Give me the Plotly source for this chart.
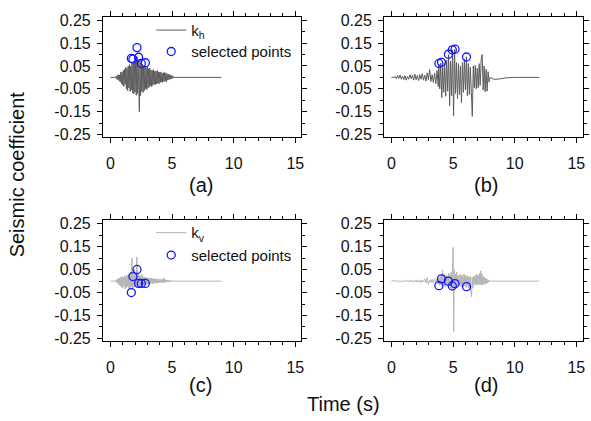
import numpy as np
import plotly.graph_objects as go
from plotly.subplots import make_subplots

FONT = "Liberation Sans, Arial, sans-serif"

# ---------------- Record 1 (panels a, c) ----------------
REC1_T_END = 9.0
REC1_T0 = 0.40
REC1_DT = 0.05
KH1 = [
    0.000, 0.004, -0.006, 0.008, -0.010, 0.012, -0.014, 0.010,
    -0.020, 0.024, -0.028, 0.022, -0.034, 0.030, -0.040, 0.036, -0.030,
    0.044, -0.050, 0.040, -0.058, 0.050, -0.046, 0.056, -0.062, 0.048, -0.055, 0.064,
    -0.068, 0.060, -0.072, 0.070, -0.064, 0.082, -0.078, 0.090, -0.070, 0.078, -0.090, -0.150,
    0.066, -0.080, 0.070,
    -0.062, 0.056, -0.066, 0.050, -0.058, 0.048, -0.050, 0.042, -0.054, 0.044, -0.046, 0.038,
    -0.042, 0.040,
    -0.036, 0.032, -0.040, 0.030, -0.034, 0.034, -0.030, 0.028, -0.032, 0.026, -0.028, 0.030,
    -0.026, 0.024, -0.028, 0.022,
    -0.022, 0.024, -0.020, 0.018, -0.022, 0.020, -0.018, 0.022, -0.016, 0.018, -0.020, 0.016,
    -0.012, 0.014, -0.010, 0.012, -0.008, 0.010, -0.006, 0.008, -0.004, 0.004, -0.002, 0.000,
]
KV1 = [
    0.000, 0.004, -0.006, 0.008, -0.010, 0.012, -0.016, 0.014,
    -0.020, 0.018, -0.026, 0.020, -0.030, 0.016, -0.022, 0.024, -0.034,
    0.020, -0.028, 0.026, -0.024, 0.030, -0.036, 0.022, -0.030, 0.040, -0.026, 0.100,
    -0.030, 0.032, -0.028, 0.050, -0.024, 0.036, -0.030, 0.105, -0.022, 0.034, -0.026, 0.028,
    -0.024, 0.022, -0.020,
    0.030, -0.018, 0.020, -0.016, 0.018, -0.014, 0.016, -0.018, 0.014, -0.012, 0.016, -0.014,
    0.012, -0.012,
    0.014, -0.010, 0.012, -0.012, 0.010, -0.010, 0.012, -0.008, 0.010, -0.010, 0.008, -0.008,
    0.010, -0.008, 0.008, -0.006,
    0.008, -0.008, 0.006, -0.006, 0.010, -0.006, 0.014, -0.008, 0.006, -0.004, 0.006, -0.004,
    0.004, -0.004, 0.004, -0.003, 0.003, -0.002, 0.002, -0.002, 0.001, -0.001, 0.001, 0.000,
]
SEL1_T = [1.70, 1.83, 2.16, 2.29, 2.51, 2.84]
SEL1_KH = [0.083, 0.080, 0.130, 0.088, 0.061, 0.064]
SEL1_KV = [-0.050, 0.020, 0.051, -0.010, -0.010, -0.010]

# ---------------- Record 2 (panels b, d) ----------------
REC2_T_END = 12.0
REC2_PRE_T0 = 0.2
REC2_PRE_DT = 0.1
KH2_PRE = [
    0.000, 0.004, -0.006, 0.008, -0.004, 0.010, -0.008, 0.006, -0.010, 0.008,
    -0.012, 0.004, -0.008, 0.012, -0.006, 0.010, -0.012, 0.014, -0.010, 0.008,
    -0.014, 0.012, -0.008, 0.016, -0.012, 0.010, -0.016, 0.020, -0.010, 0.034,
    -0.018, 0.012, -0.022, 0.018, -0.028, 0.030, -0.040,
]
KV2_PRE = [
    0.000, 0.002, -0.002, 0.003, -0.003, 0.002, -0.004, 0.003, -0.002, 0.004,
    -0.003, 0.003, -0.004, 0.005, -0.003, 0.004, -0.005, 0.003, -0.004, 0.006,
    -0.005, 0.004, -0.006, 0.005, -0.004, 0.010, -0.008, 0.015, -0.015, 0.006,
    -0.006, 0.008, -0.010, 0.010, -0.008, 0.012, -0.012,
]
# strong-motion part of the horizontal record, sampled every 0.08 s
KH2_T0 = 3.84
KH2_DT = 0.08
KH2 = [
    0.058, -0.050, 0.062, -0.088, 0.045, -0.065, 0.060, -0.082, 0.075, -0.060,
    0.100, -0.124, 0.070, -0.080, 0.120, -0.168, 0.122, -0.070, 0.065, -0.092,
    0.060, -0.075, 0.050, -0.110, 0.065, -0.065, 0.080, -0.055, 0.090, -0.080,
    0.060, -0.075, 0.045, -0.120, -0.170, 0.050, -0.045, 0.052, -0.050, 0.040,
    -0.045, 0.060, -0.035, 0.080, 0.100, -0.055, 0.050, -0.063, 0.035, -0.060,
    0.025, -0.020, 0.000,
]
# strong-motion part of the vertical record, sampled every 0.05 s
KV2_T0 = 3.85
KV2_DT = 0.05
KV2 = [
    0.014, -0.018, 0.020, -0.014, 0.026, -0.020, 0.048, -0.016, 0.030, -0.022,
    0.018, -0.024, 0.026, -0.018, 0.020, -0.026, 0.034, -0.020, 0.028, -0.030,
    0.040, -0.040, 0.060, 0.147, -0.220, 0.050, -0.030, 0.030, -0.026, 0.040,
    -0.022, 0.024, -0.020, 0.026, -0.018, 0.030, -0.024, 0.022, -0.020, 0.028,
    -0.024, 0.030, -0.020, 0.026, -0.028, 0.020, -0.022, 0.024, -0.030, 0.018,
    -0.040, 0.020, -0.050, -0.068, 0.016, -0.030, 0.020, -0.018, 0.022, -0.016,
    0.028, -0.014, 0.030, -0.016, 0.024, -0.014, 0.034, -0.016, 0.045, -0.014,
    0.030, -0.018, 0.020, -0.012, 0.016, -0.014, 0.012, -0.010, 0.010, -0.008,
    0.006, -0.004, 0.002, 0.000,
]
KH2_TAIL_T = [8.15, 8.30, 8.60, 8.90, 9.30, 10.0, REC2_T_END]
KH2_TAIL = [-0.004, -0.008, -0.008, -0.005, -0.002, 0.0, 0.0]
KV2_TAIL_T = [REC2_T_END]
KV2_TAIL = [0.0]
SEL2_T = [3.85, 4.06, 4.62, 4.94, 5.16, 6.09]
SEL2_KH = [0.061, 0.066, 0.101, 0.120, 0.123, 0.089]
SEL2_KV = [-0.020, 0.010, 0.000, -0.021, -0.011, -0.024]

# ---------------- Axis ticks ----------------
X_TICKS = [0, 5, 10, 15]
Y_TICKS = [0.25, 0.15, 0.05, -0.05, -0.15, -0.25]
Y_TICK_TEXT = ["0.25", "0.15", "0.05", "-0.05", "-0.15", "-0.25"]

KH_COLOR = "#5c5c5c"
KV_COLOR = "#b4b4b4"
SEL_COLOR = "#1414ff"


def grid(t0, dt, n):
    return list(t0 + dt * np.arange(n))


rec1_t = [0.0] + grid(REC1_T0, REC1_DT, len(KH1)) + [REC1_T_END]
kh1 = [0.0] + KH1 + [0.0]
kv1 = [0.0] + KV1 + [0.0]

pre_t = grid(REC2_PRE_T0, REC2_PRE_DT, len(KH2_PRE))
kh2_t = [0.0] + pre_t + grid(KH2_T0, KH2_DT, len(KH2)) + KH2_TAIL_T
kh2 = [0.0] + KH2_PRE + KH2 + KH2_TAIL
kv2_t = [0.0] + pre_t + grid(KV2_T0, KV2_DT, len(KV2)) + KV2_TAIL_T
kv2 = [0.0] + KV2_PRE + KV2 + KV2_TAIL

fig = make_subplots(rows=2, cols=2)

sel_marker = dict(symbol="circle-open", size=8, color=SEL_COLOR, line=dict(width=1.3))

# (a) horizontal, record 1
fig.add_trace(go.Scatter(x=rec1_t, y=kh1, mode="lines", name="k<sub>h</sub>",
                         line=dict(color=KH_COLOR, width=1), legend="legend"), row=1, col=1)
fig.add_trace(go.Scatter(x=SEL1_T, y=SEL1_KH, mode="markers", name="selected points",
                         marker=sel_marker, legend="legend3"), row=1, col=1)
# (b) horizontal, record 2
fig.add_trace(go.Scatter(x=kh2_t, y=kh2, mode="lines", showlegend=False,
                         line=dict(color=KH_COLOR, width=1)), row=1, col=2)
fig.add_trace(go.Scatter(x=SEL2_T, y=SEL2_KH, mode="markers", showlegend=False,
                         marker=sel_marker), row=1, col=2)
# (c) vertical, record 1
fig.add_trace(go.Scatter(x=rec1_t, y=kv1, mode="lines", name="k<sub>v</sub>",
                         line=dict(color=KV_COLOR, width=1), legend="legend2"), row=2, col=1)
fig.add_trace(go.Scatter(x=SEL1_T, y=SEL1_KV, mode="markers", name="selected points",
                         marker=sel_marker, legend="legend4"), row=2, col=1)
# (d) vertical, record 2
fig.add_trace(go.Scatter(x=kv2_t, y=kv2, mode="lines", showlegend=False,
                         line=dict(color=KV_COLOR, width=1)), row=2, col=2)
fig.add_trace(go.Scatter(x=SEL2_T, y=SEL2_KV, mode="markers", showlegend=False,
                         marker=sel_marker), row=2, col=2)

W, H = 591, 421
x_dom = {1: [103.5 / W, 303.0 / W], 2: [386.0 / W, 585.5 / W]}
y_dom = {1: [1 - 135.5 / H, 1 - 12.0 / H], 2: [1 - 344.7 / H, 1 - 221.2 / H]}

axis_common = dict(showline=True, linecolor="black", linewidth=1, mirror="allticks",
                   ticks="outside", ticklen=5, tickwidth=1, tickcolor="black",
                   showgrid=False, zeroline=False,
                   tickfont=dict(family=FONT, size=16, color="#111111"))

for r in (1, 2):
    for c in (1, 2):
        fig.update_xaxes(axis_common, row=r, col=c, domain=x_dom[c],
                         range=[-0.6, 15.5], tickmode="array", tickvals=X_TICKS,
                         ticklabelstandoff=7,
                         minor=dict(tickmode="linear", tick0=0, dtick=1, ticks="outside",
                                    ticklen=3, tickcolor="black", showgrid=False))
        fig.update_yaxes(axis_common, row=r, col=c, domain=y_dom[r],
                         range=[-0.26, 0.265], tickmode="array", tickvals=Y_TICKS,
                         ticktext=Y_TICK_TEXT, ticklabelstandoff=3,
                         minor=dict(tickmode="linear", tick0=0.25, dtick=0.05, ticks="outside",
                                    ticklen=3, tickcolor="black", showgrid=False))

ann_font = dict(family=FONT, size=20, color="#111111")
annotations = [
    dict(text="(a)", x=202 / W, y=1 - 185 / H),
    dict(text="(b)", x=488 / W, y=1 - 185 / H),
    dict(text="(c)", x=202 / W, y=1 - 390 / H),
    dict(text="(d)", x=488 / W, y=1 - 390 / H),
    dict(text="Time (s)", x=345 / W, y=1 - 410 / H),
    dict(text="Seismic coefficient", x=18 / W, y=1 - 174 / H, textangle=-90),
]
for a in annotations:
    a.update(xref="paper", yref="paper", showarrow=False, font=ann_font,
             xanchor="center", yanchor="middle")

legend_common = dict(xanchor="left", yanchor="middle", bgcolor="rgba(0,0,0,0)",
                     borderwidth=0, tracegroupgap=0,
                     font=dict(family=FONT, size=15, color="#111111"))
LEG_X = 152 / W

fig.update_layout(
    width=W, height=H,
    margin=dict(l=0, r=0, t=0, b=0),
    paper_bgcolor="white", plot_bgcolor="white",
    font=dict(family=FONT, color="#111111"),
    annotations=annotations,
    legend=dict(legend_common, x=LEG_X, y=1 - 26 / H),
    legend3=dict(legend_common, x=LEG_X, y=1 - 48 / H),
    legend2=dict(legend_common, x=LEG_X, y=1 - 234 / H),
    legend4=dict(legend_common, x=LEG_X, y=1 - 257 / H),
)

fig.write_html("out.html")
